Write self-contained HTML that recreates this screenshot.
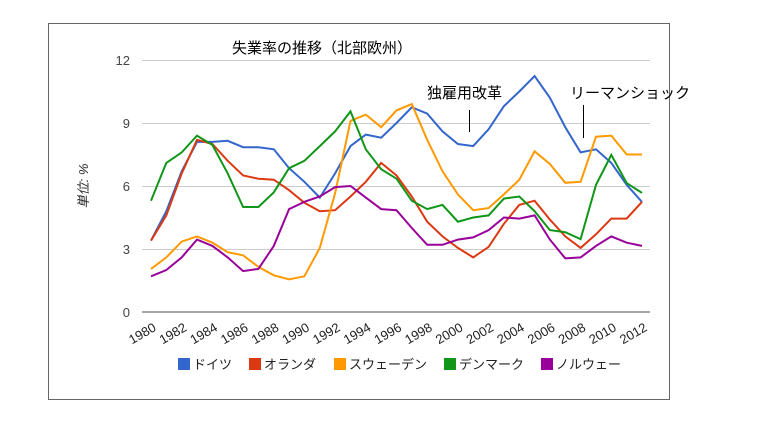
<!DOCTYPE html>
<html><head><meta charset="utf-8"><style>
body{margin:0;background:#fff;}
svg text{font-family:"Liberation Sans","Noto Sans CJK JP",sans-serif;}
</style></head><body>
<svg id="s" width="771" height="436" xmlns="http://www.w3.org/2000/svg">
<rect x="48.5" y="23.5" width="621" height="376" fill="#fff" stroke="#666" stroke-width="1"/>
<text x="232" y="53" font-size="15" fill="#000">失業率の推移（北部欧州）</text>
<g stroke="#ccc" stroke-width="1">
<line x1="142" x2="650" y1="60.5" y2="60.5"/>
<line x1="142" x2="650" y1="123.5" y2="123.5"/>
<line x1="142" x2="650" y1="186.5" y2="186.5"/>
<line x1="142" x2="650" y1="249.5" y2="249.5"/>
</g>
<line x1="142" x2="650" y1="312" y2="312" stroke="#888" stroke-width="1.5"/>
<g font-size="13" fill="#444" text-anchor="end">
<text x="130" y="65">12</text><text x="130" y="128">9</text><text x="130" y="191">6</text><text x="130" y="254">3</text><text x="130" y="317">0</text>
</g>
<text transform="translate(88,186) rotate(-90)" text-anchor="middle" font-size="13" font-style="italic" fill="#222">単位: %</text>
<text x="427" y="98" font-size="15" fill="#000">独雇用改革</text>
<line x1="469.5" x2="469.5" y1="110" y2="132" stroke="#000"/>
<text x="570" y="98" font-size="15" fill="#000">リーマンショック</text>
<line x1="583.5" x2="583.5" y1="105" y2="138" stroke="#000"/>
<g id="lines"></g>
<g id="xl" font-size="13" fill="#222"></g>
<g font-size="13" fill="#222">
<rect x="178" y="358" width="12" height="12" fill="#3366cc"/><text x="193" y="369">ドイツ</text>
<rect x="249" y="358" width="12" height="12" fill="#dc3912"/><text x="264" y="369">オランダ</text>
<rect x="334" y="358" width="12" height="12" fill="#ff9900"/><text x="349" y="369">スウェーデン</text>
<rect x="444" y="358" width="12" height="12" fill="#109618"/><text x="459" y="369">デンマーク</text>
<rect x="541" y="358" width="12" height="12" fill="#990099"/><text x="556" y="369">ノルウェー</text>
</g>
</svg>
<script>
var D=[
["#3366cc",[3.4,4.8,6.7,8.1,8.1,8.15,7.85,7.85,7.75,6.85,6.2,5.45,6.6,7.9,8.45,8.3,9.0,9.75,9.45,8.6,8.0,7.9,8.7,9.8,10.5,11.24,10.2,8.8,7.6,7.75,7.1,6.05,5.24]],
["#dc3912",[3.4,4.6,6.6,8.2,8.0,7.2,6.5,6.35,6.3,5.8,5.2,4.8,4.85,5.5,6.2,7.1,6.5,5.5,4.3,3.6,3.05,2.6,3.1,4.2,5.1,5.3,4.4,3.6,3.05,3.7,4.45,4.45,5.25]],
["#ff9900",[2.05,2.6,3.35,3.6,3.3,2.85,2.7,2.15,1.75,1.55,1.7,3.05,5.65,9.1,9.4,8.8,9.6,9.9,8.2,6.7,5.6,4.85,4.95,5.6,6.3,7.65,7.05,6.15,6.2,8.35,8.4,7.5,7.5]],
["#109618",[5.3,7.1,7.6,8.4,7.95,6.6,5.0,5.0,5.7,6.85,7.2,7.9,8.6,9.55,7.75,6.8,6.35,5.3,4.9,5.1,4.3,4.5,4.6,5.4,5.5,4.8,3.9,3.8,3.47,6.05,7.48,6.14,5.67]],
["#990099",[1.7,2.0,2.6,3.45,3.15,2.6,1.95,2.05,3.15,4.9,5.25,5.5,5.95,6.0,5.45,4.9,4.85,4.0,3.2,3.2,3.45,3.55,3.9,4.5,4.45,4.6,3.45,2.55,2.6,3.15,3.6,3.3,3.15]]];
var ns="http://www.w3.org/2000/svg",g=document.getElementById("lines"),xl=document.getElementById("xl");
function X(i){return 151+i*(491/32);}
D.forEach(function(s){var p=document.createElementNS(ns,"polyline");
p.setAttribute("points",s[1].map(function(v,i){return X(i).toFixed(1)+","+(312-21*v).toFixed(1)}).join(" "));
p.setAttribute("fill","none");p.setAttribute("stroke",s[0]);p.setAttribute("stroke-width","2");g.appendChild(p);});
for(var i=0;i<=32;i+=2){var t=document.createElementNS(ns,"text");var x=X(i)+6,y=330;
t.setAttribute("transform","translate("+x+","+y+") rotate(-30)");t.setAttribute("text-anchor","end");t.textContent=1980+i;xl.appendChild(t);}
</script>
</body></html>
